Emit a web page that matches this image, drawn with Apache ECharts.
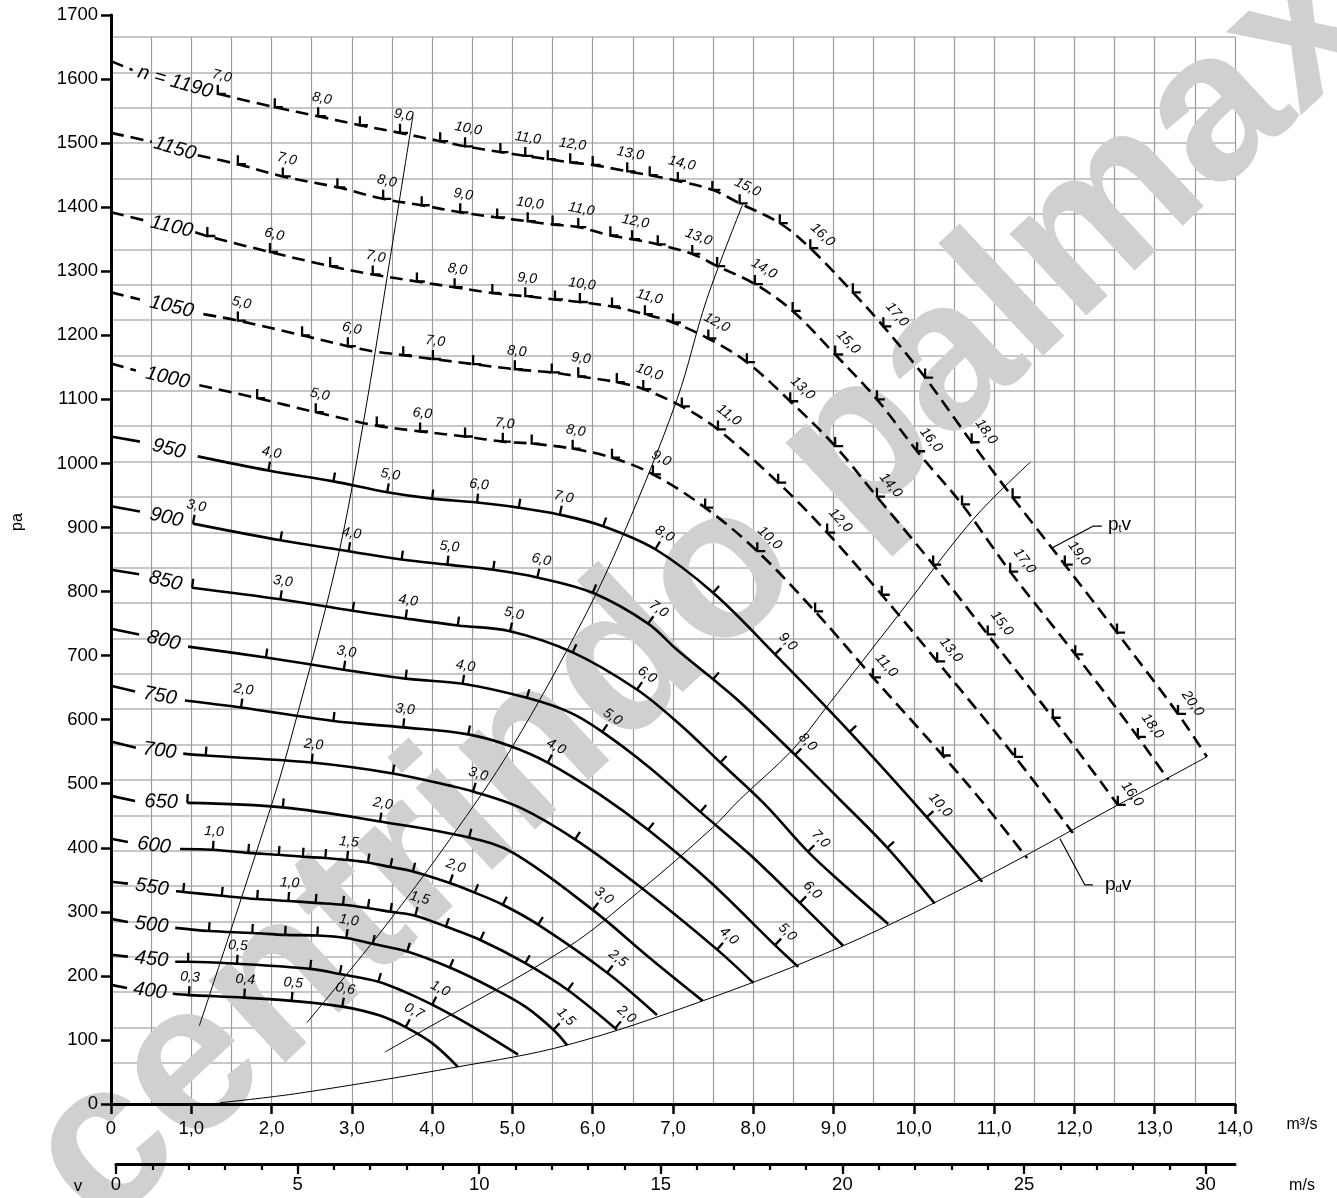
<!DOCTYPE html>
<html><head><meta charset="utf-8"><title>Fan curves</title>
<script src="https://cdn.jsdelivr.net/npm/echarts@6/dist/echarts.min.js"></script>
<style>html,body{margin:0;padding:0;background:#fff;}#chart{width:1337px;height:1198px;}</style>
</head><body><div id="chart"></div>
<script>
// ---------- data (flow m3/s, pressure Pa) ----------
const curveNames = ['n = 1190','1150','1100','1050','1000','950','900','850','800','750','700','650','600','550','500','450','400'];
const curveDashed = [true,true,true,true,true,false,false,false,false,false,false,false,false,false,false,false,false];

const c1190 = [[0,1628],[0.27,1614],null,[1.33,1577],[2.04,1556],[2.58,1542],[3.10,1528],[3.60,1516],[4.10,1503],[4.41,1495],[4.85,1486],[5.16,1480],[5.44,1475],[5.72,1470],[6.00,1466],[6.43,1456],[6.71,1450],[7.06,1441],[7.49,1427],[7.83,1406],[8.33,1375],[8.71,1336],[9.24,1267],[9.62,1214],[10.14,1134],[10.72,1033],[11.23,947],[11.88,842],[12.53,736],[13.29,609],[13.65,542]];
const c1150 = [[0,1516],[0.51,1502],null,[1.08,1481],[1.58,1467],[2.14,1448],[2.82,1431],[3.39,1413],[3.87,1403],[4.35,1392],[4.81,1384],[5.19,1378],[5.50,1373],[5.82,1369],[6.22,1356],[6.49,1350],[6.81,1342],[7.24,1327],[7.55,1308],[8.02,1280],[8.49,1238],[9.02,1170],[9.54,1100],[10.04,1019],[10.60,936],[11.20,831],[12.01,702],[12.79,573],[13.17,506]];
const c1100 = [[0,1392],[0.46,1378],null,[1.05,1361],[1.20,1355],[1.98,1330],[2.73,1308],[3.26,1295],[3.81,1284],[4.28,1275],[4.75,1266],[5.16,1261],[5.53,1256],[5.84,1252],[6.24,1245],[6.65,1233],[7.00,1220],[7.44,1195],[7.92,1158],[8.46,1097],[9.02,1027],[9.54,948],[10.24,842],[10.92,733],[11.73,603],[12.54,467]];
const c1050 = [[0,1267],[0.36,1256],null,[1.15,1233],[1.58,1223],[2.38,1200],[2.95,1183],[3.26,1175],[3.64,1169],[4.01,1163],[4.51,1155],[5.03,1147],[5.49,1142],[5.82,1136],[6.30,1127],[6.63,1116],[7.11,1089],[7.56,1053],[8.31,970],[8.92,892],[9.60,795],[10.29,691],[11.26,542],[11.98,423]];
const c1000 = [[0,1156],[0.31,1145],null,[1.10,1122],[1.82,1102],[2.55,1080],[3.31,1059],[3.85,1050],[4.41,1042],[4.88,1034],[5.24,1031],[5.75,1023],[6.24,1009],[6.75,983],[7.40,931],[8.05,863],[8.77,769],[9.49,666],[10.36,544],[10.89,466],[11.41,384]];
const c950 = [[0,1042],[0.36,1034],null,[1.08,1011],[1.96,989],[2.77,972],[3.44,955],[4.00,945],[4.56,939],[5.08,931],[5.59,920],[6.13,902],[6.78,866],[7.50,798],[8.27,702],[9.20,581],[10.16,448],[10.85,347]];
const c900 = [[0,933],[0.36,925],null,[1.02,906],[2.11,880],[2.96,863],[3.62,850],[4.19,842],[4.76,834],[5.31,822],[6.00,798],[6.69,750],[7.05,709],[7.50,663],[7.83,628],[8.52,545],[9.08,475],[9.67,400],[10.26,313]];
const c850 = [[0,834],[0.35,827],null,[1.01,806],[2.11,788],[3.01,770],[3.67,758],[4.32,747],[4.97,738],[5.75,705],[6.55,647],[7.09,592],[7.59,533],[8.15,467],[8.68,394],[9.20,334],[9.68,281]];
const c800 = [[0,742],[0.35,733],null,[0.96,714],[1.93,697],[2.90,678],[3.67,664],[4.38,656],[5.18,634],[5.72,611],[6.12,581],[6.71,525],[7.34,456],[7.96,389],[8.58,314],[9.12,247]];
const c750 = [[0,653],[0.30,644],null,[0.92,630],[1.62,619],[2.77,598],[3.64,588],[4.45,577],[4.97,559],[5.44,533],[6.09,483],[6.69,428],[7.46,347],[8.27,248],[8.56,214]];
const c700 = [[0,566],[0.31,556],null,[0.90,547],[1.18,544],[2.50,533],[3.51,516],[4.22,497],[4.51,488],[5.09,463],[5.78,413],[6.59,339],[7.55,241],[8.00,189]];
const c650 = [[0,481],[0.30,473],null,[0.95,470],[2.14,463],[3.35,441],[4.46,416],[5.01,392],[6.00,303],[6.71,228],[7.37,161]];
const c600 = [[0,414],[0.21,409],null,[0.86,398],[1.27,397],[1.71,392],[2.09,389],[2.39,386],[2.67,384],[2.94,381],[3.20,377],[3.48,370],[3.76,363],[4.22,345],[4.53,330],[4.88,311],[5.32,280],[6.18,205],[6.80,139]];
const c550 = [[0,347],[0.21,344],null,[0.81,332],[0.90,331],[1.38,325],[1.82,320],[2.21,317],[2.55,314],[2.89,311],[3.20,306],[3.48,300],[3.79,294],[4.17,277],[4.60,256],[5.16,220],[5.69,178],[6.30,116]];
const c500 = [[0,289],[0.21,284],null,[0.80,275],[1.22,270],[1.76,267],[2.17,264],[2.57,263],[2.93,259],[3.26,250],[3.69,238],[4.22,213],[4.72,183],[5.16,152],[5.51,116],[5.68,92]];
const c450 = [[0,233],[0.21,230],null,[0.80,222],[0.96,222],[1.57,219],[2.48,211],[2.85,203],[3.33,191],[3.66,175],[4.00,155],[4.47,123],[5.07,77]];
const c400 = [[0,186],[0.20,181],null,[0.77,172],[0.97,170],[1.66,166],[2.25,161],[2.88,152],[3.35,138],[3.67,120],[4.00,95],[4.32,58]];

// power ticks along each curve: [flow, label]
const k1190 = [[1.33,'7,0'],[2.04,''],[2.58,'8,0'],[3.10,''],[3.60,'9,0'],[4.10,''],[4.41,'10,0'],[4.85,''],[5.16,'11,0'],[5.44,''],[5.72,'12,0'],[6.00,''],[6.43,'13,0'],[6.71,''],[7.06,'14,0'],[7.49,''],[7.83,'15,0'],[8.33,''],[8.71,'16,0'],[9.24,''],[9.62,'17,0'],[10.14,''],[10.72,'18,0'],[11.23,''],[11.88,'19,0'],[12.53,''],[13.29,'20,0']];
const k1150 = [[1.58,''],[2.14,'7,0'],[2.82,''],[3.39,'8,0'],[3.87,''],[4.35,'9,0'],[4.81,''],[5.19,'10,0'],[5.50,''],[5.82,'11,0'],[6.22,''],[6.49,'12,0'],[6.81,''],[7.24,'13,0'],[7.55,''],[8.02,'14,0'],[8.49,''],[9.02,'15,0'],[9.54,''],[10.04,'16,0'],[10.60,''],[11.20,'17,0'],[12.01,''],[12.79,'18,0']];
const k1100 = [[1.20,''],[1.98,'6,0'],[2.73,''],[3.26,'7,0'],[3.81,''],[4.28,'8,0'],[4.75,''],[5.16,'9,0'],[5.53,''],[5.84,'10,0'],[6.24,''],[6.65,'11,0'],[7.00,''],[7.44,'12,0'],[7.92,''],[8.46,'13,0'],[9.02,''],[9.54,'14,0'],[10.24,''],[10.92,'15,0'],[11.73,''],[12.54,'16,0']];
const k1050 = [[1.58,'5,0'],[2.38,''],[2.95,'6,0'],[3.64,''],[4.01,'7,0'],[4.51,''],[5.03,'8,0'],[5.49,''],[5.82,'9,0'],[6.30,''],[6.63,'10,0'],[7.11,''],[7.56,'11,0'],[8.31,''],[8.92,'12,0'],[9.60,''],[10.29,'13,0'],[11.26,'']];
const k1000 = [[1.82,''],[2.55,'5,0'],[3.31,''],[3.85,'6,0'],[4.41,''],[4.88,'7,0'],[5.24,''],[5.75,'8,0'],[6.24,''],[6.75,'9,0'],[7.40,''],[8.05,'10,0'],[8.77,''],[9.49,'11,0'],[10.36,'']];
const k950 = [[1.96,'4,0'],[2.77,''],[3.44,'5,0'],[4.00,''],[4.56,'6,0'],[5.08,''],[5.59,'7,0'],[6.13,''],[6.78,'8,0'],[7.50,''],[8.27,'9,0'],[9.20,''],[10.16,'10,0']];
const k900 = [[1.02,'3,0'],[2.11,''],[2.96,'4,0'],[3.62,''],[4.19,'5,0'],[4.76,''],[5.31,'6,0'],[6.00,''],[6.69,'7,0'],[7.50,''],[8.52,'8,0'],[9.67,'']];
const k850 = [[1.01,''],[2.11,'3,0'],[3.01,''],[3.67,'4,0'],[4.32,''],[4.97,'5,0'],[5.75,''],[6.55,'6,0'],[7.59,''],[8.68,'7,0']];
const k800 = [[1.93,''],[2.90,'3,0'],[3.67,''],[4.38,'4,0'],[5.18,''],[6.12,'5,0'],[7.34,''],[8.58,'6,0']];
const k750 = [[1.62,'2,0'],[2.77,''],[3.64,'3,0'],[4.45,''],[5.44,'4,0'],[6.69,''],[8.27,'5,0']];
const k700 = [[1.18,''],[2.50,'2,0'],[3.51,''],[4.51,'3,0'],[5.78,''],[7.55,'4,0']];
const k650 = [[0.95,''],[2.14,''],[3.35,'2,0'],[4.46,''],[6.00,'3,0']];
const k600 = [[1.27,'1,0'],[1.71,''],[2.09,''],[2.39,''],[2.67,''],[2.94,'1,5'],[3.20,''],[3.48,''],[3.76,''],[4.22,'2,0'],[4.53,''],[4.88,''],[5.32,''],[6.18,'2,5']];
const k550 = [[0.90,''],[1.38,''],[1.82,''],[2.21,'1,0'],[2.55,''],[2.89,''],[3.20,''],[3.48,''],[3.79,'1,5'],[4.17,''],[4.60,''],[5.16,''],[5.69,''],[6.28,'2,0']];
const k500 = [[1.22,''],[1.76,''],[2.17,''],[2.57,''],[2.93,'1,0'],[3.26,''],[3.69,''],[4.22,''],[5.51,'1,5']];
const k450 = [[0.96,''],[1.57,'0,5'],[2.48,''],[2.85,''],[3.33,''],[4.00,'1,0']];
const k400 = [[0.97,'0,3'],[1.66,'0,4'],[2.25,'0,5'],[2.88,'0,6'],[3.67,'0,7']];

// system curves, dynamic pressure curve, leaders
const sys1 = [[1.10,122],[2.02,475],[2.27,584],[2.82,850],[3.14,1061],[3.48,1323],[3.76,1542]];
const sys2 = [[2.44,127],[3.35,267],[4.22,413],[4.99,556],[5.88,756],[6.38,889],[7.05,1100],[7.42,1256],[7.87,1405]];
const sys3 = [[3.41,81],[3.72,103],[5.68,244],[6.56,330],[7.49,431],[7.83,475],[8.49,553],[8.89,616],[9.83,767],[10.74,913],[11.45,1002]];
const pdv = [[1.36,2],[2.35,17],[4.32,58],[5.68,92],[7.37,161],[9.12,247],[10.82,350],[12.53,466],[13.65,542]];
const ptvLeader = [[11.72,868],[12.23,902],[12.34,902]];
const pdvLeader = [[11.82,414],[12.13,342],[12.23,342]];

const vMinorTicks = [0,1,2,3,4,5,6,7,8,9,10,11,12,13,14,15,16,17,18,19,20,21,22,23,24,25,26,27,28,29,30];
const vMajorTicks = [0,5,10,15,20,25,30];

const curveData = [c1190,c1150,c1100,c1050,c1000,c950,c900,c850,c800,c750,c700,c650,c600,c550,c500,c450,c400];
const curveTicks = [k1190,k1150,k1100,k1050,k1000,k950,k900,k850,k800,k750,k700,k650,k600,k550,k500,k450,k400];

// ---------- helpers ----------
function segs(arr){ const out=[[]]; arr.forEach(p=>{ if(p===null) out.push([]); else out[out.length-1].push(p); }); return out; }
function interp(pts, x){
  let i = 1;
  while (i < pts.length-1 && x > pts[i][0]) i++;
  const a = pts[i-1], b = pts[i];
  return a[1] + (b[1]-a[1])*(x-a[0])/(b[0]-a[0]);
}
const mains = curveData.map(c => { const s = segs(c); return s[s.length-1]; });
const FONT = '"Liberation Sans", Arial, sans-serif';
const centered = {align:'center', verticalAlign:'middle', textAlign:'center', textVerticalAlign:'middle'};

// ---------- series ----------
const series = [];
curveData.forEach((c, i) => {
  segs(c).forEach(seg => series.push({
    type:'line', xAxisIndex:0, yAxisIndex:0, data:seg, symbol:'none', showSymbol:false,
    smooth:0.35, silent:true, z:6, animation:false,
    lineStyle:{color:'#000', width:2.6, type: curveDashed[i] ? [13,7] : 'solid', cap:'butt'}
  }));
});
[sys1, sys2, sys3, pdv].forEach(d => series.push({
  type:'line', xAxisIndex:0, yAxisIndex:0, data:d, symbol:'none', smooth:0.35,
  silent:true, z:5, animation:false, lineStyle:{color:'#000', width:1}
}));
[ptvLeader, pdvLeader].forEach(d => series.push({
  type:'line', xAxisIndex:0, yAxisIndex:0, data:d, symbol:'none', silent:true, z:5, animation:false,
  lineStyle:{color:'#000', width:1.2}
}));

const tickData = [];
curveTicks.forEach((ks, ci) => ks.forEach((k, ti) => tickData.push([k[0], interp(mains[ci], k[0]), ci, ti])));
series.push({
  type:'custom', xAxisIndex:0, yAxisIndex:0, data:tickData, z:7, silent:true, clip:false, animation:false,
  renderItem(params, api){
    const x = api.value(0), y = api.value(1), ci = api.value(2), ti = api.value(3);
    const main = mains[ci];
    const p = api.coord([x, y]);
    const d = 0.08;
    const pa = api.coord([x-d, interp(main, x-d)]);
    const pb = api.coord([x+d, interp(main, x+d)]);
    const a = Math.atan2(pb[1]-pa[1], pb[0]-pa[0]);
    const nx = Math.sin(a), ny = -Math.cos(a);
    const st = {stroke:'#000', lineWidth:2.3, fill:null};
    const ch = [];
    if (curveDashed[ci]) {
      ch.push({type:'polyline', shape:{points:[[p[0], p[1]-9],[p[0], p[1]],[p[0]+8, p[1]]]}, style:st});
    } else {
      ch.push({type:'line', shape:{x1:p[0], y1:p[1], x2:p[0]+9*nx, y2:p[1]+9*ny}, style:st});
    }
    const lab = curveTicks[ci][ti][1];
    if (lab) ch.push({type:'text', x:p[0]+18*nx, y:p[1]+18*ny, rotation:-a,
      style:Object.assign({text:lab, font:'italic 14px '+FONT, fill:'#000'}, centered)});
    return {type:'group', children:ch};
  }
});

const nameData = curveData.map((c, ci) => { const s = segs(c); const a = s[0][s[0].length-1], b = s[1][0]; return [(a[0]+b[0])/2, (a[1]+b[1])/2, ci]; });
series.push({
  type:'custom', xAxisIndex:0, yAxisIndex:0, data:nameData, z:7, silent:true, clip:false, animation:false,
  renderItem(params, api){
    const ci = api.value(2);
    const s = segs(curveData[ci]);
    const pa = api.coord(s[0][s[0].length-1]), pb = api.coord(s[1][0]);
    const ang = Math.atan2(pb[1]-pa[1], pb[0]-pa[0]);
    return {type:'text', x:(pa[0]+pb[0])/2, y:(pa[1]+pb[1])/2, rotation:-ang,
      style:Object.assign({text:curveNames[ci], font:'italic 20px '+FONT, fill:'#000'}, centered)};
  }
});

// ---------- option ----------
const hidden = {show:true, axisLine:{show:false}, axisTick:{show:false}, axisLabel:{show:false}};
const subRich = {a:{fontSize:19, fontFamily:FONT, lineHeight:20, verticalAlign:'bottom'}, b:{fontSize:11, fontFamily:FONT, lineHeight:20, verticalAlign:'bottom'}};
const option = {
  animation:false,
  backgroundColor:'#fff',
  grid:[
    {left:111, right:102, top:15, bottom:94},
    {left:111, right:102, top:37, bottom:135},
    {left:111, right:102, top:37, bottom:94},
    {left:116, right:102, top:1163, height:1}
  ],
  xAxis:[
    {gridIndex:0, type:'value', min:0, max:14, interval:1, z:5,
      axisLine:{show:true, lineStyle:{color:'#000', width:3}},
      axisTick:{show:true, inside:false, length:10, lineStyle:{color:'#000', width:2.5}},
      axisLabel:{margin:15, color:'#000', fontSize:18.5, fontFamily:FONT,
        formatter: v => v === 0 ? '0' : v.toFixed(1).replace('.', ',')},
      splitLine:{show:false}},
    Object.assign({gridIndex:1, type:'value', min:0, max:14, splitLine:{show:false}}, hidden),
    Object.assign({gridIndex:2, type:'value', min:0, max:14, interval:0.5, z:0,
      splitLine:{show:true, lineStyle:{color:'#9c9c9c', width:1.2}}}, hidden),
    {gridIndex:3, type:'value', min:0, max:30.81, position:'bottom', z:5,
      axisLine:{show:true, onZero:false, lineStyle:{color:'#000', width:3}},
      axisTick:{show:true, inside:false, length:6, customValues:vMinorTicks, lineStyle:{color:'#000', width:2.2}},
      axisLabel:{show:false}, splitLine:{show:false}},
    {gridIndex:3, type:'value', min:0, max:30.81, position:'bottom', z:5,
      axisLine:{show:false, onZero:false},
      axisTick:{show:true, inside:false, length:10, customValues:vMajorTicks, lineStyle:{color:'#000', width:2.2}},
      axisLabel:{show:true, customValues:vMajorTicks, margin:11, color:'#000', fontSize:18.5, fontFamily:FONT, formatter: v => String(v)},
      splitLine:{show:false}}
  ],
  yAxis:[
    {gridIndex:0, type:'value', min:0, max:1700, interval:100, z:5,
      axisLine:{show:true, lineStyle:{color:'#000', width:3}},
      axisTick:{show:true, inside:false, length:10, lineStyle:{color:'#000', width:2.5}},
      axisLabel:{margin:13, color:'#000', fontSize:18.5, fontFamily:FONT, formatter: v => String(v)},
      splitLine:{show:false}},
    Object.assign({gridIndex:1, type:'value', min:0, max:29, interval:1, z:0,
      splitLine:{show:true, lineStyle:{color:'#b4b4b4', width:1.6}}}, hidden),
    Object.assign({gridIndex:2, type:'value', min:0, max:1, splitLine:{show:false}}, hidden),
    {gridIndex:3, type:'value', min:0, max:1, show:false}
  ],
  graphic:[
    {type:'text', x:704, y:592, rotation:43*Math.PI/180, z:1, silent:true,
      style:Object.assign({text:'centrindo palmax', font:'bold 212px '+FONT, fill:'#d0d0d1'}, centered)},
    {type:'text', x:18, y:522, rotation:Math.PI/2, z:5, silent:true,
      style:Object.assign({text:'pa', font:'16px '+FONT, fill:'#000'}, centered)},
    {type:'text', x:1302, y:1125, z:5, silent:true,
      style:Object.assign({text:'m³/s', font:'16px '+FONT, fill:'#000'}, centered)},
    {type:'text', x:1302, y:1186, z:5, silent:true,
      style:Object.assign({text:'m/s', font:'16px '+FONT, fill:'#000'}, centered)},
    {type:'text', x:78, y:1186, z:5, silent:true,
      style:Object.assign({text:'v', font:'17px '+FONT, fill:'#000'}, centered)},
    {type:'text', x:1108, y:524, z:5, silent:true,
      style:{text:'{a|p}{b|t}{a|v}', fill:'#000', align:'left', verticalAlign:'middle', textAlign:'left', textVerticalAlign:'middle', rich:subRich}},
    {type:'text', x:1105, y:884, z:5, silent:true,
      style:{text:'{a|p}{b|d}{a|v}', fill:'#000', align:'left', verticalAlign:'middle', textAlign:'left', textVerticalAlign:'middle', rich:subRich}}
  ],
  series: series
};
const chart = echarts.init(document.getElementById('chart'), null, {renderer:'canvas'});
chart.setOption(option);
</script></body></html>
